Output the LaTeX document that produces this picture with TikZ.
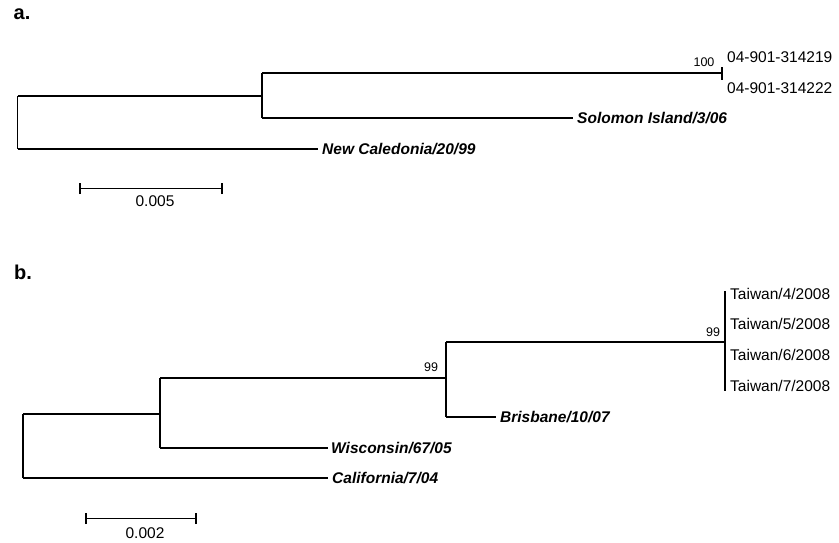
\documentclass[tikz,border=0pt]{standalone}
\usepackage{fontspec}
\setmainfont{Liberation Sans}
\begin{document}
\begin{tikzpicture}[x=1pt,y=-1pt,
  branch/.style={line width=1.1pt,black},
  leaf/.style={anchor=west,inner sep=0pt,font=\fontsize{15.5}{17}\selectfont},
  ref/.style={anchor=west,inner sep=0pt,font=\fontsize{15.5}{17}\selectfont\bfseries\itshape},
  boot/.style={inner sep=0pt,font=\fontsize{12.5}{14}\selectfont},
  scalelab/.style={inner sep=0pt,font=\fontsize{15.5}{17}\selectfont},
  panel/.style={inner sep=0pt,font=\fontsize{20}{22}\selectfont\bfseries}]
\useasboundingbox (0,0) rectangle (839,542);

% ---------- panel a ----------
\node[panel] (pa) at (22,14) {a.};
\coordinate (a0t) at (17.5,96);
\coordinate (a0b) at (17.5,149);
\coordinate (a1c) at (262,96);
\coordinate (a1t) at (262,73);
\coordinate (a1b) at (262,118);
\coordinate (a2c) at (722,73);
\coordinate (a2t) at (722,67);
\coordinate (a2b) at (722,80);
\node[leaf] (s1) at (727,57) {04-901-314219};
\node[leaf] (s2) at (727,88) {04-901-314222};
\node[boot] (b100) at (704,62) {100};
\node[ref] (solo) at (577,118) {Solomon Island/3/06};
\node[ref] (newc) at (322,149) {New Caledonia/20/99};
\coordinate (soloe) at (573,118);
\coordinate (newce) at (318,149);
\draw[branch] (a0t) -- (a0b);
\draw[branch] (a0t) -- (a1c);
\draw[branch] (a1t) -- (a1b);
\draw[branch] (a1t) -- (a2c);
\draw[branch] (a2t) -- (a2b);
\draw[branch] (a1b) -- (soloe);
\draw[branch] (a0b) -- (newce);
% scale a
\coordinate (sa1) at (80,188.5);
\coordinate (sa2) at (222,188.5);
\draw[branch] (sa1) -- (sa2);
\draw[branch] ([yshift=-5.5pt]sa1) -- ([yshift=5.5pt]sa1);
\draw[branch] ([yshift=-5.5pt]sa2) -- ([yshift=5.5pt]sa2);
\node[scalelab] (la) at (155,201) {0.005};

% ---------- panel b ----------
\node[panel] (pb) at (23,272) {b.};
\coordinate (b0t) at (23,414);
\coordinate (b0b) at (23,478);
\coordinate (b1c) at (160,414);
\coordinate (b1t) at (160,378);
\coordinate (b1b) at (160,448);
\coordinate (b2c) at (446,378);
\coordinate (b2t) at (446,342);
\coordinate (b2b) at (446,417);
\coordinate (b3c) at (725,342);
\coordinate (b3t) at (725,291);
\coordinate (b3b) at (725,391);
\node[leaf] (t4) at (730,294) {Taiwan/4/2008};
\node[leaf] (t5) at (730,324) {Taiwan/5/2008};
\node[leaf] (t6) at (730,355) {Taiwan/6/2008};
\node[leaf] (t7) at (730,386) {Taiwan/7/2008};
\node[boot] (b99a) at (713,332) {99};
\node[boot] (b99b) at (431,367) {99};
\node[ref] (bris) at (500,417) {Brisbane/10/07};
\node[ref] (wisc) at (331,448) {Wisconsin/67/05};
\node[ref] (cali) at (332,478) {California/7/04};
\coordinate (brise) at (496,417);
\coordinate (wisce) at (328,448);
\coordinate (calie) at (328,478);
\draw[branch] (b0t) -- (b0b);
\draw[branch] (b0t) -- (b1c);
\draw[branch] (b1t) -- (b1b);
\draw[branch] (b1t) -- (b2c);
\draw[branch] (b2t) -- (b2b);
\draw[branch] (b2t) -- (b3c);
\draw[branch] (b3t) -- (b3b);
\draw[branch] (b2b) -- (brise);
\draw[branch] (b1b) -- (wisce);
\draw[branch] (b0b) -- (calie);
% scale b
\coordinate (sb1) at (86,518.5);
\coordinate (sb2) at (196,518.5);
\draw[branch] (sb1) -- (sb2);
\draw[branch] ([yshift=-5.5pt]sb1) -- ([yshift=5.5pt]sb1);
\draw[branch] ([yshift=-5.5pt]sb2) -- ([yshift=5.5pt]sb2);
\node[scalelab] (lb) at (145,533) {0.002};
\end{tikzpicture}
\end{document}
